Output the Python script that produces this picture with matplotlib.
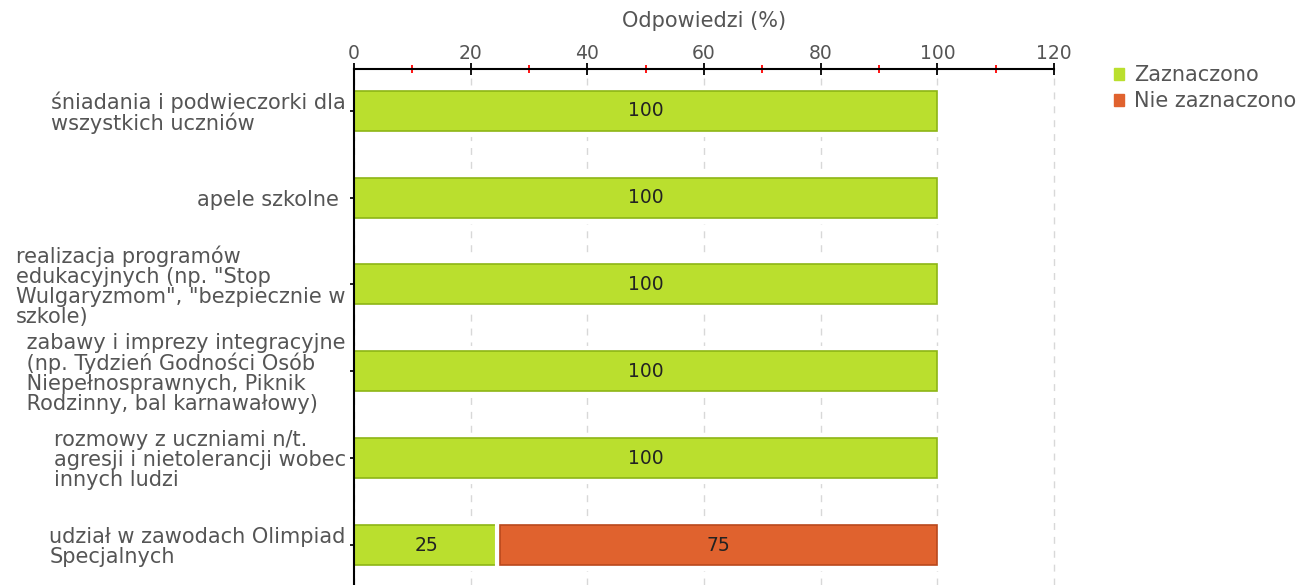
import matplotlib
matplotlib.use("Agg")
import matplotlib.pyplot as plt
import matplotlib.patheffects as pe
from matplotlib.ticker import MultipleLocator
import numpy as np

categories = [
    "śniadania i podwieczorki dla\nwszystkich uczniów",
    "apele szkolne ",
    "realizacja programów\nedukacyjnych (np. \"Stop\nWulgaryzmom\", \"bezpiecznie w\nszkole)",
    " zabawy i imprezy integracyjne\n (np. Tydzień Godności Osób\n Niepełnosprawnych, Piknik\n Rodzinny, bal karnawałowy)",
    "rozmowy z uczniami n/t.\nagresji i nietolerancji wobec\ninnych ludzi",
    "udział w zawodach Olimpiad\nSpecjalnych",
]
zaznaczono = [100, 100, 100, 100, 100, 25]
nie_zaznaczono = [0, 0, 0, 0, 0, 75]
series_names = ["Zaznaczono", "Nie zaznaczono"]
xticks = [0, 20, 40, 60, 80, 100, 120]

green, green_edge = "#badf2e", "#8db515"
orange, orange_edge = "#e0622e", "#b9481c"
grey = "#555555"
fs_num = 13.5
fs_txt = 15

fig = plt.figure(figsize=(12.99, 5.85), dpi=100)
ax = fig.add_axes([354/1299, 0.0, 700/1299, 1 - 69/585])

y = np.arange(len(categories))
h = 0.46
eff = [pe.Stroke(linewidth=8, foreground="white"), pe.Normal()]
b1 = ax.barh(y, zaznaczono, height=h, color=green, edgecolor=green_edge, linewidth=1.2, zorder=3)
b2 = ax.barh(y, nie_zaznaczono, left=zaznaczono, height=h, color=orange, edgecolor=orange_edge, linewidth=1.2, zorder=3)
for b in list(b1) + list(b2):
    b.set_path_effects(eff)
    if b.get_width() == 0:
        b.set_visible(False)

for vals, lefts in ((zaznaczono, [0]*len(zaznaczono)), (nie_zaznaczono, zaznaczono)):
    for i, (v, l) in enumerate(zip(vals, lefts)):
        if v > 0:
            ax.text(l + v/2, y[i], f"{v}", ha="center", va="center", fontsize=fs_num, color="#222222", zorder=5)

ax.set_xlim(0, 120)
ax.set_ylim(len(categories) - 1 + 0.46, -0.48)
ax.xaxis.tick_top()
ax.xaxis.set_label_position("top")
ax.set_xticks(xticks)
ax.xaxis.set_minor_locator(MultipleLocator(10))
ax.tick_params(axis="x", which="major", direction="inout", length=9, width=1.3, color="black",
               labelsize=fs_num, labelcolor=grey, pad=0)
ax.tick_params(axis="x", which="minor", direction="inout", length=6, width=1.3, color="#ff0000")
ax.set_xlabel("Odpowiedzi (%)", fontsize=fs_txt, color=grey, labelpad=12)

ax.set_yticks(y)
ax.set_yticklabels(categories, fontsize=fs_txt, color=grey, linespacing=1.0, multialignment="left")
ax.tick_params(axis="y", direction="inout", length=6, width=1.2, pad=3)

for s in ("right", "bottom"):
    ax.spines[s].set_visible(False)
for s in ("top", "left"):
    ax.spines[s].set_linewidth(1.5)
    ax.spines[s].set_color("black")
    ax.spines[s].set_zorder(6)

ax.grid(axis="x", which="major", color="#d8d8d8", linestyle=(0, (5, 5)), linewidth=1, zorder=0)
ax.set_axisbelow(True)
for gl in ax.get_xgridlines():
    gl.set_clip_on(False)

handles = [plt.Rectangle((0, 0), 1, 1, color=green), plt.Rectangle((0, 0), 1, 1, color=orange)]
leg = fig.legend(handles, series_names, loc="upper left", bbox_to_anchor=(1114/1299, 1 - 65/585),
                 frameon=False, fontsize=fs_txt, handlelength=0.5, handleheight=0.5, handletextpad=0.45,
                 labelspacing=0.3, borderaxespad=0, borderpad=0)
for t in leg.get_texts():
    t.set_color(grey)

fig.savefig("out.png", dpi=100)
